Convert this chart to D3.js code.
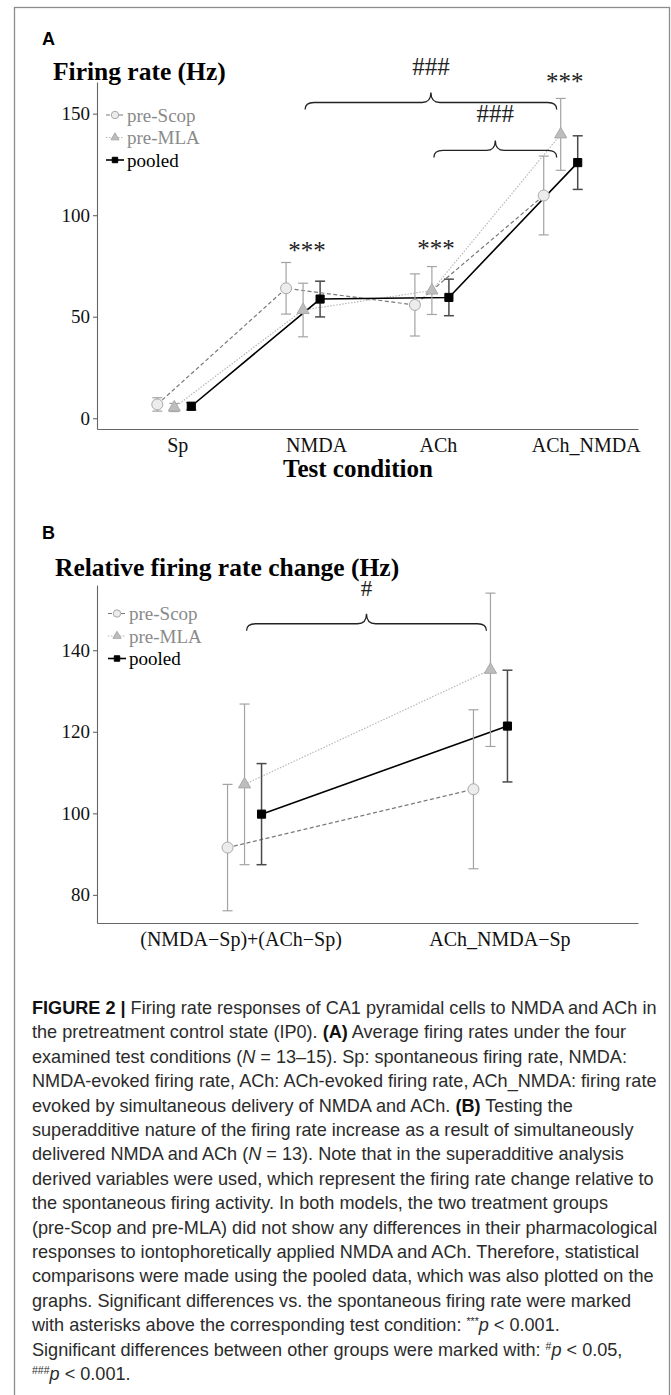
<!DOCTYPE html>
<html>
<head>
<meta charset="utf-8">
<script src="https://cdn.jsdelivr.net/npm/d3@7.9.0/dist/d3.min.js"></script>
<style>
  body { margin: 0; background: #fff; }
  svg { display: block; }
</style>
</head>
<body>
<svg id="fig" width="671" height="1395"></svg>
<script>
// ---- data ----
const groups = ['pre-Scop', 'pre-MLA', 'pooled'];

// panel A: firing rate (Hz), mean and SEM
const conditionsA = ['Sp', 'NMDA', 'ACh', 'ACh_NMDA'];
const scopA = [6.8, 64.0, 55.8, 109.7];
const scopErrA = [3.3, 12.7, 15.3, 19.4];
const mlaA = [5.3, 53.3, 62.9, 139.8];
const mlaErrA = [2.0, 13.2, 11.8, 17.7];
const pooledA = [5.9, 58.7, 59.5, 125.9];
const pooledErrA = [1.8, 8.8, 9.0, 13.2];
const ticksA = [0, 50, 100, 150];

// panel B: relative firing rate change (Hz)
const conditionsB = ['(NMDA\u2212Sp)+(ACh\u2212Sp)', 'ACh_NMDA\u2212Sp'];
const scopB = [91.6, 105.9];
const scopErrB = [15.5, 19.5];
const mlaB = [107.1, 135.2];
const mlaErrB = [19.7, 18.8];
const pooledB = [99.8, 121.4];
const pooledErrB = [12.4, 13.7];
const ticksB = [80, 100, 120, 140];

// significance marks
const starsA = ['NMDA', 'ACh', 'ACh_NMDA'];
const starLevelsA = [84, 85, 167];
const bracesA = [['NMDA', 'ACh_NMDA', '###'], ['ACh', 'ACh_NMDA', '###']];
const braceLevelsA = [155.5, 131.9];
const bracesB = [[conditionsB[0], conditionsB[1], '#']];
const braceLevelsB = [146.5];

const captionLines = [
  '{b:FIGURE 2 |} Firing rate responses of CA1 pyramidal cells to NMDA and ACh in',
  'the pretreatment control state (IP0). {b:(A)} Average firing rates under the four',
  'examined test conditions ({i:N} = 13\u201315). Sp: spontaneous firing rate, NMDA:',
  'NMDA-evoked firing rate, ACh: ACh-evoked firing rate, ACh_NMDA: firing rate',
  'evoked by simultaneous delivery of NMDA and ACh. {b:(B)} Testing the',
  'superadditive nature of the firing rate increase as a result of simultaneously',
  'delivered NMDA and ACh ({i:N} = 13). Note that in the superadditive analysis',
  'derived variables were used, which represent the firing rate change relative to',
  'the spontaneous firing activity. In both models, the two treatment groups',
  '(pre-Scop and pre-MLA) did not show any differences in their pharmacological',
  'responses to iontophoretically applied NMDA and ACh. Therefore, statistical',
  'comparisons were made using the pooled data, which was also plotted on the',
  'graphs. Significant differences vs. the spontaneous firing rate were marked',
  'with asterisks above the corresponding test condition: {s:***}{i:p} < 0.001.',
  'Significant differences between other groups were marked with: {s:#}{i:p} < 0.05,',
  '{s:###}{i:p} < 0.001.'
];

// ---- styles ----
const serif = '"Liberation Serif", "Times New Roman", serif';
const sans = '"Liberation Sans", Arial, Helvetica, sans-serif';

const style = {
  'pre-Scop': { line: '#7a7a7a', dash: '4,2.5', lw: 1.2, err: '#a3a3a3', ew: 1.2,
                shape: d3.symbolCircle, size: 95, fill: '#ececec', stroke: '#a8a8a8', text: '#8a8a8a' },
  'pre-MLA':  { line: '#b8b8b8', dash: '1.5,1.5', lw: 1.2, err: '#a3a3a3', ew: 1.2,
                shape: d3.symbolTriangle, size: 64, fill: '#bdbdbd', stroke: '#aaaaaa', text: '#8a8a8a' },
  'pooled':   { line: '#000', dash: null, lw: 1.6, err: '#4a4a4a', ew: 1.5,
                shape: d3.symbolSquare, size: 66, fill: '#000', stroke: '#000', text: '#000' }
};
const dodge = { 'pre-Scop': -17, 'pre-MLA': 0, 'pooled': 17 };

const fig = d3.select('#fig');

// frame: open at the bottom, it runs past the picture edge
fig.append('rect')
  .attr('x', 14.5).attr('y', 7.5)
  .attr('width', 655).attr('height', 1400)
  .attr('fill', 'none').attr('stroke', '#8c8c8c').attr('stroke-width', 1.3);

function bracePath(x1, x2, y, hTip, hEnd) {
  const m = (x1 + x2) / 2, r = 9;
  return `M${x1},${y + hEnd} Q${x1},${y} ${x1 + r},${y} L${m - r},${y} ` +
         `Q${m},${y} ${m},${y - hTip} Q${m},${y} ${m + r},${y} ` +
         `L${x2 - r},${y} Q${x2},${y} ${x2},${y + hEnd}`;
}

function drawPanel(p) {
  const g = fig.append('g');
  const x = d3.scalePoint().domain(p.categories).range([97, 638]).padding(0.6);
  const y = d3.scaleLinear().domain(p.yDomain).range([p.bottom, p.top]);

  const series = groups.map((name, k) => ({
    name,
    pts: p.categories.map((c, i) => ({ c, v: p.means[k][i], e: p.errs[k][i] }))
  }));

  // panel letter + y title
  g.append('text').attr('x', 42).attr('y', p.letterY)
    .attr('font-family', sans).attr('font-weight', 'bold').attr('font-size', 18)
    .text(p.letter);
  g.append('text').attr('x', p.titleX).attr('y', p.titleY)
    .attr('font-family', serif).attr('font-weight', 'bold').attr('font-size', 25.5)
    .text(p.title);

  // axes
  const yAxis = g.append('g').attr('transform', 'translate(97,0)')
    .call(d3.axisLeft(y).tickValues(p.ticks).tickSize(4).tickSizeOuter(0).tickPadding(3));
  yAxis.selectAll('text').attr('font-family', serif).attr('font-size', 19).attr('fill', '#111');
  const xAxis = g.append('g').attr('transform', `translate(0,${p.bottom})`)
    .call(d3.axisBottom(x).tickSize(0).tickSizeOuter(0).tickPadding(9));
  xAxis.selectAll('text').attr('font-family', serif).attr('font-size', 20).attr('fill', '#111')
    .attr('dx', (d, i) => p.labelNudge[i]);
  g.selectAll('.domain, .tick line').attr('stroke', '#666').attr('stroke-width', 1.1);

  // lines
  const line = d3.line().x(d => x(d.c)).y(d => y(d.v));
  series.forEach(s => {
    const st = style[s.name];
    g.append('path').datum(s.pts)
      .attr('transform', `translate(${dodge[s.name]},0)`)
      .attr('d', line).attr('fill', 'none')
      .attr('stroke', st.line).attr('stroke-width', st.lw)
      .attr('stroke-dasharray', st.dash);
  });

  // error bars + markers
  series.forEach(s => {
    const st = style[s.name];
    const eg = g.append('g').attr('transform', `translate(${dodge[s.name]},0)`)
      .attr('stroke', st.err).attr('stroke-width', st.ew).attr('fill', 'none');
    s.pts.forEach(d => {
      const cx = x(d.c), y1 = y(d.v + d.e), y2 = y(d.v - d.e);
      eg.append('line').attr('x1', cx).attr('x2', cx).attr('y1', y1).attr('y2', y2);
      eg.append('line').attr('x1', cx - 5).attr('x2', cx + 5).attr('y1', y1).attr('y2', y1);
      eg.append('line').attr('x1', cx - 5).attr('x2', cx + 5).attr('y1', y2).attr('y2', y2);
    });
  });
  series.forEach(s => {
    const st = style[s.name];
    g.append('g').selectAll('path').data(s.pts).join('path')
      .attr('transform', d => `translate(${x(d.c) + dodge[s.name]},${y(d.v)})`)
      .attr('d', d3.symbol(st.shape, st.size))
      .attr('fill', st.fill).attr('stroke', st.stroke).attr('stroke-width', 1);
  });

  // legend
  const lg = g.append('g').attr('transform', `translate(${p.legendX},0)`);
  groups.forEach((name, k) => {
    const st = style[name], ly = p.legendY + k * 22.5;
    lg.append('line').attr('x1', 0).attr('x2', 18).attr('y1', ly).attr('y2', ly)
      .attr('stroke', st.line).attr('stroke-width', st.lw).attr('stroke-dasharray', st.dash);
    lg.append('path').attr('transform', `translate(9,${ly})`)
      .attr('d', d3.symbol(st.shape, st.size * 0.45))
      .attr('fill', st.fill).attr('stroke', st.stroke).attr('stroke-width', 1);
    lg.append('text').attr('x', 21).attr('y', ly + 6.5)
      .attr('font-family', serif).attr('font-size', 19).attr('fill', st.text)
      .text(name);
  });

  // braces with labels
  p.braces.forEach((b, i) => {
    const x1 = x(b[0]) + 2, x2 = x(b[1]) - 4, by = y(p.braceLevels[i]);
    g.append('path').attr('d', bracePath(x1, x2, by, 10, 7))
      .attr('fill', 'none').attr('stroke', '#222').attr('stroke-width', 1.3);
    g.append('text').attr('x', (x1 + x2) / 2).attr('y', by - 28)
      .attr('text-anchor', 'middle').attr('font-family', serif)
      .attr('font-size', p.braceFont).attr('fill', '#222').text(b[2]);
  });

  // asterisks
  (p.stars || []).forEach((c, i) => {
    g.append('text').attr('x', x(c) + 4).attr('y', y(p.starLevels[i]) + 11)
      .attr('text-anchor', 'middle').attr('font-family', serif)
      .attr('font-size', 25).attr('fill', '#222').text('***');
  });

  if (p.xTitle) {
    g.append('text').attr('x', 358).attr('y', p.xTitleY).attr('text-anchor', 'middle')
      .attr('font-family', serif).attr('font-weight', 'bold').attr('font-size', 25)
      .text(p.xTitle);
  }
}

drawPanel({
  letter: 'A', letterY: 44.5, title: 'Firing rate (Hz)', titleX: 53, titleY: 80,
  categories: conditionsA, top: 82, bottom: 429, yDomain: [-5.3, 165.6], ticks: ticksA,
  means: [scopA, mlaA, pooledA], errs: [scopErrA, mlaErrA, pooledErrA],
  labelNudge: [3, 13, 6, 25], legendX: 106, legendY: 115,
  braces: bracesA, braceLevels: braceLevelsA, braceFont: 25,
  stars: starsA, starLevels: starLevelsA,
  xTitle: 'Test condition', xTitleY: 477
});

drawPanel({
  letter: 'B', letterY: 538.5, title: 'Relative firing rate change (Hz)', titleX: 55, titleY: 576,
  categories: conditionsB, top: 585, bottom: 923, yDomain: [73.1, 156], ticks: ticksB,
  means: [scopB, mlaB, pooledB], errs: [scopErrB, mlaErrB, pooledErrB],
  labelNudge: [-4, 9], legendX: 108, legendY: 613.5,
  braces: bracesB, braceLevels: braceLevelsB, braceFont: 23
});

// ---- caption ----
const cap = fig.append('g').attr('font-family', sans).attr('font-size', 18.1).attr('fill', '#2b2b2b');
captionLines.forEach((str, i) => {
  const t = cap.append('text').attr('x', 32).attr('y', 1014 + i * 24.4);
  const re = /\{([bis]):([^}]*)\}/g;
  let last = 0, m, shifted = false;
  const add = (txt, kind) => {
    const ts = t.append('tspan').text(txt);
    if (shifted && kind !== 's') { ts.attr('dy', 6); shifted = false; }
    if (kind === 'b') ts.attr('font-weight', 'bold').attr('fill', '#111');
    if (kind === 'i') ts.attr('font-style', 'italic');
    if (kind === 's') { ts.attr('font-size', 10.5).attr('dy', -6); shifted = true; }
  };
  while ((m = re.exec(str)) !== null) {
    if (m.index > last) add(str.slice(last, m.index), null);
    add(m[2], m[1]);
    last = re.lastIndex;
  }
  if (last < str.length) add(str.slice(last), null);
});
</script>
</body>
</html>
